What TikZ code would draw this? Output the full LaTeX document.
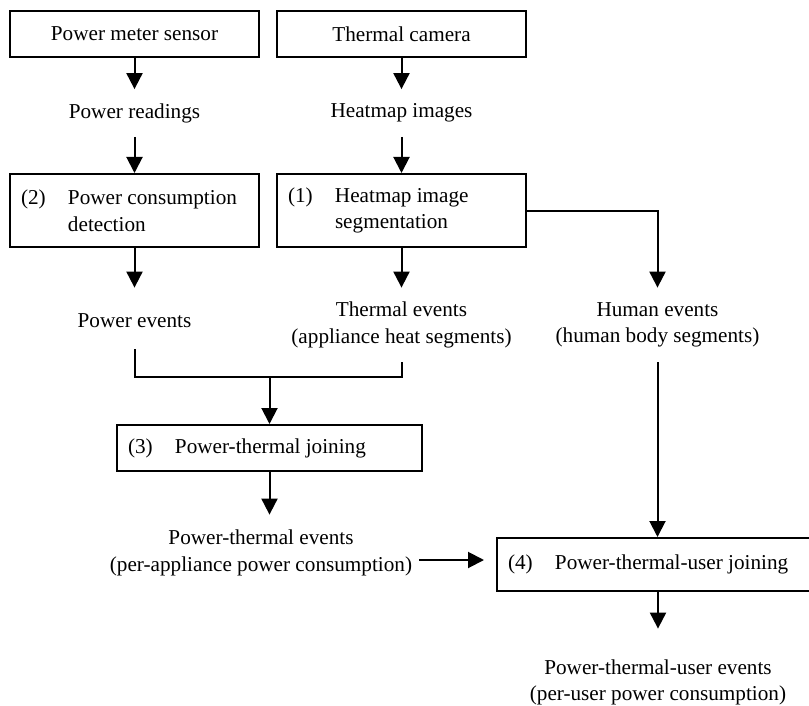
\documentclass[tikz,border=0pt]{standalone}
\usepackage{fontspec}
\setmainfont{Liberation Serif}
\usetikzlibrary{arrows.meta, positioning, calc}
\newcommand{\numtag}[1]{\makebox[23.5pt][l]{(#1)}}

\begin{document}
\begin{tikzpicture}[
  x=0.5pt, y=-0.5pt,
  font=\fontsize{10.6}{13.3}\selectfont,
  srcbox/.style={
    rectangle, draw=black, line width=1pt,
    minimum width=124.5pt, minimum height=23pt,
    align=center, inner sep=0pt
  },
  stagebox/.style={
    rectangle, draw=black, line width=1pt,
    text width=#1, inner xsep=5.5pt, inner ysep=0pt,
    align=flush left
  },
  evt/.style={align=center, inner sep=3.5pt, minimum height=#1},
  evt/.default=23.5pt,
  flowarr/.style={
    -{Triangle[width=8pt, length=8pt]}, line width=1pt
  },
  flowline/.style={line width=1pt}
]
\useasboundingbox (0,0) rectangle (809,706);

\node[srcbox] (meter)  at (134.5,34) {Power meter sensor};
\node[srcbox] (camera) at (401.5,34) {Thermal camera};
\node[evt] (readings) at (134.5,113) {Power readings};
\node[evt] (heatmaps) at (401.5,113) {Heatmap images};
\node[stagebox=113.5pt, minimum height=36.5pt] (detect)  at (134.5,210.5) {\numtag{2}Power consumption\\\hspace*{23.5pt}detection};
\node[stagebox=113.5pt, minimum height=36.5pt] (segment) at (401.5,210.5) {\numtag{1}Heatmap image\\\hspace*{23.5pt}segmentation};
\node[evt=28pt] (pwrev)   at (134.5,321) {Power events};
\node[evt=37pt] (thermev) at (401.5,325) {Thermal events\\(appliance heat segments)};
\node[evt=37pt] (humanev) at (657.5,325) {Human events\\(human body segments)};
\node[stagebox=141.5pt, minimum height=23pt] (ptjoin) at (269.5,448) {\numtag{3}Power-thermal joining};
\node[evt=38pt] (ptev) at (261,553) {Power-thermal events\\(per-appliance power consumption)};
\node[stagebox=146.5pt, minimum height=26.5pt] (ptujoin) at (654.5,564.5) {\numtag{4}Power-thermal-user joining};
\node[evt=53.5pt] (ptuev) at (658,682.5) {Power-thermal-user events\\(per-user power consumption)};

\coordinate (join)  at (269.5,377);
\coordinate (ptout) at ([yshift=-3.5pt]ptev.east);

\draw[flowarr] (meter.south) -- (readings.north);
\draw[flowarr] (camera.south) -- (heatmaps.north);
\draw[flowarr] (readings.south) -- (detect.north);
\draw[flowarr] (heatmaps.south) -- (segment.north);
\draw[flowarr] (detect.south) -- (detect.south |- thermev.north);
\draw[flowarr] (segment.south) -- (thermev.north);
\draw[flowarr] (segment.east) -| (humanev.north);
\draw[flowline] (pwrev.south) |- (join) -| (thermev.south);
\draw[flowarr] (join) -- (ptjoin.north);
\draw[flowarr] (ptjoin.south) -- (ptjoin.south |- ptev.north);
\draw[flowarr, shorten >=6pt] (ptout) -- (ptout -| ptujoin.west);
\draw[flowarr] (humanev.south) -- (humanev.south |- ptujoin.north);
\draw[flowarr] (ptuev.north |- ptujoin.south) -- (ptuev.north);
\end{tikzpicture}
\end{document}
